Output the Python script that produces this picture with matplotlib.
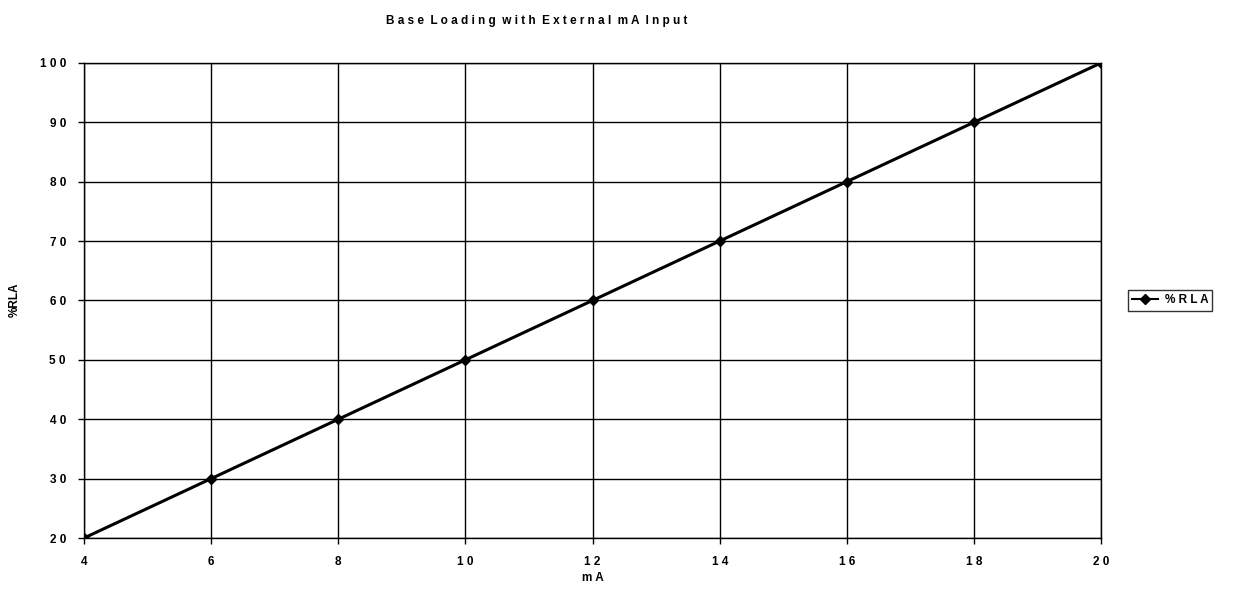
import matplotlib
matplotlib.use("Agg")
import matplotlib.pyplot as plt

mA = [4, 6, 8, 10, 12, 14, 16, 18, 20]
rla = [20, 30, 40, 50, 60, 70, 80, 90, 100]
x_ticks = [4, 6, 8, 10, 12, 14, 16, 18, 20]
y_ticks = [20, 30, 40, 50, 60, 70, 80, 90, 100]

plt.rcParams['font.family'] = ['Liberation Sans', 'DejaVu Sans']

fig = plt.figure(figsize=(12.48, 5.93), dpi=100)
ax = fig.add_axes([0.0673, 0.0927, 0.8150, 0.8013])

ax.plot(mA, rla, color='black', linewidth=2.2, marker='D', markersize=5,
        markerfacecolor='black', markeredgecolor='black', label='% RLA')

ax.set_xlim(4, 20)
ax.set_ylim(20, 100)
ax.set_xticks(x_ticks)
ax.set_yticks(y_ticks)
ax.set_xticklabels([' '.join(str(v)) for v in x_ticks], fontsize=8.5, fontweight='bold')
ax.set_yticklabels([' '.join(str(v)) for v in y_ticks], fontsize=8.5, fontweight='bold')
ax.grid(True, color='black', linewidth=1.0)
ax.set_axisbelow(True)
for s in ax.spines.values():
    s.set_color('black')
    s.set_linewidth(1.0)
ax.tick_params(axis='both', direction='out', length=4, width=1, color='black', pad=9)

ax.set_xlabel('m A', fontsize=8.5, fontweight='bold', labelpad=3)
fig.text(0.0115, 0.494, '%RLA', rotation=90, ha='center', va='center',
         fontsize=8.5, fontweight='bold')

fig.text(0.43, 0.965, 'B a s e  L o a d i n g  w i t h  E x t e r n a l  m A  I n p u t',
         ha='center', va='center', fontsize=8.5, fontweight='bold')

leg = ax.legend(loc='center left', bbox_to_anchor=(1.026, 0.5),
                prop={'size': 8.5, 'weight': 'bold'},
                frameon=True, fancybox=False, edgecolor='black', handlelength=2.2,
                handletextpad=0.6, borderpad=0.35, borderaxespad=0.0)
leg.get_frame().set_linewidth(1.0)
leg.get_texts()[0].set_text('% R L A')
leg.get_lines()[0].set_linewidth(1.5)

fig.savefig('out.png', dpi=100, facecolor='white')
